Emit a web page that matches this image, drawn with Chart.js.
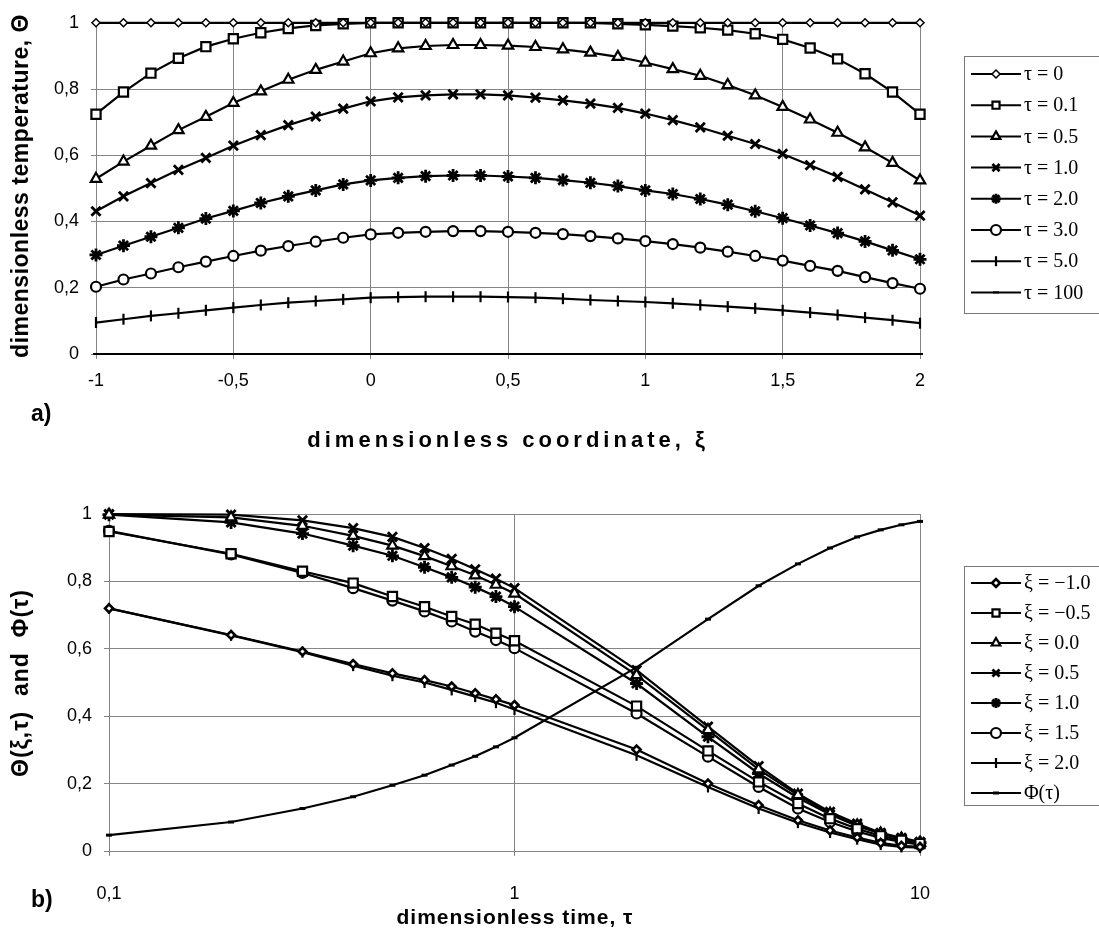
<!DOCTYPE html>
<html>
<head>
<meta charset="utf-8">
<script src="https://cdn.jsdelivr.net/npm/chart.js@4.4.1/dist/chart.umd.min.js"></script>
<style>
  body { margin: 0; background: #fff; }
  #wrap { position: relative; width: 1099px; height: 933px; }
  canvas { position: absolute; left: 0; }
</style>
</head>
<body>
<div id="wrap">
  <canvas id="chartA" width="1099" height="466" style="top:0"></canvas>
  <canvas id="chartB" width="1099" height="467" style="top:466px"></canvas>
</div>
<script>
// ---- panel a) : temperature profiles along xi ----
const xiValues = [-1, -0.9, -0.8, -0.7, -0.6, -0.5, -0.4, -0.3, -0.2, -0.1, 0, 0.1, 0.2, 0.3, 0.4, 0.5,
  0.6, 0.7, 0.8, 0.9, 1, 1.1, 1.2, 1.3, 1.4, 1.5, 1.6, 1.7, 1.8, 1.9, 2];

const thetaTau0 = [1, 1, 1, 1, 1, 1, 1, 1, 1, 1, 1, 1, 1, 1, 1, 1, 1, 1, 1, 1, 1, 1, 1, 1, 1, 1, 1, 1, 1, 1, 1];
const thetaTau01 = [0.724, 0.791, 0.848, 0.893, 0.928, 0.952, 0.97, 0.983, 0.992, 0.997, 1.0, 1, 1, 1, 1, 1,
  1, 1, 1, 0.997, 0.994, 0.99, 0.985, 0.978, 0.967, 0.95, 0.924, 0.891, 0.846, 0.791, 0.724];
const thetaTau05 = [0.529, 0.581, 0.629, 0.676, 0.716, 0.758, 0.793, 0.828, 0.858, 0.883, 0.908, 0.923, 0.93, 0.933, 0.933, 0.931,
  0.927, 0.92, 0.91, 0.897, 0.88, 0.86, 0.84, 0.812, 0.781, 0.746, 0.708, 0.668, 0.624, 0.577, 0.524];
const thetaTau1 = [0.431, 0.476, 0.516, 0.556, 0.592, 0.629, 0.661, 0.691, 0.717, 0.741, 0.763, 0.775, 0.781, 0.784, 0.784, 0.781,
  0.774, 0.766, 0.756, 0.743, 0.726, 0.706, 0.684, 0.659, 0.634, 0.604, 0.57, 0.535, 0.497, 0.458, 0.418];
const thetaTau2 = [0.299, 0.327, 0.354, 0.381, 0.409, 0.432, 0.456, 0.476, 0.494, 0.512, 0.524, 0.532, 0.537, 0.539, 0.539, 0.536,
  0.532, 0.525, 0.517, 0.507, 0.494, 0.483, 0.468, 0.451, 0.431, 0.41, 0.388, 0.365, 0.34, 0.313, 0.286];
const thetaTau3 = [0.203, 0.225, 0.243, 0.262, 0.279, 0.296, 0.312, 0.326, 0.339, 0.351, 0.361, 0.366, 0.369, 0.371, 0.371, 0.369,
  0.366, 0.362, 0.356, 0.349, 0.341, 0.332, 0.321, 0.309, 0.296, 0.282, 0.266, 0.251, 0.232, 0.214, 0.197];
const thetaTau5 = [0.095, 0.105, 0.115, 0.123, 0.132, 0.14, 0.148, 0.155, 0.16, 0.165, 0.17, 0.172, 0.173, 0.173, 0.173, 0.172,
  0.17, 0.167, 0.163, 0.16, 0.157, 0.153, 0.148, 0.143, 0.138, 0.132, 0.125, 0.118, 0.11, 0.102, 0.093];
const thetaTau100 = [0, 0, 0, 0, 0, 0, 0, 0, 0, 0, 0, 0, 0, 0, 0, 0, 0, 0, 0, 0, 0, 0, 0, 0, 0, 0, 0, 0, 0, 0, 0];

const xiTicks = [-1, -0.5, 0, 0.5, 1, 1.5, 2];
const thetaTicks = [0, 0.2, 0.4, 0.6, 0.8, 1];

// ---- panel b) : temperature vs time at fixed xi ----
const tauValues = [0.1, 0.2, 0.3, 0.4, 0.5, 0.6, 0.7, 0.8, 0.9, 1, 2, 3, 4, 5, 6, 7, 8, 9, 10];

const thetaXiM10 = [0.72, 0.641, 0.592, 0.555, 0.527, 0.507, 0.488, 0.468, 0.45, 0.433, 0.301, 0.2, 0.136, 0.091, 0.061, 0.04, 0.024, 0.015, 0.012];
const thetaXiM05 = [0.948, 0.882, 0.83, 0.795, 0.755, 0.725, 0.696, 0.673, 0.646, 0.624, 0.43, 0.297, 0.205, 0.141, 0.096, 0.066, 0.045, 0.032, 0.022];
const thetaXi00 = [0.998, 0.99, 0.965, 0.935, 0.906, 0.875, 0.845, 0.818, 0.79, 0.764, 0.522, 0.359, 0.242, 0.166, 0.111, 0.076, 0.052, 0.037, 0.025];
const thetaXi05 = [1.0, 0.998, 0.981, 0.958, 0.932, 0.899, 0.867, 0.836, 0.808, 0.78, 0.537, 0.369, 0.252, 0.17, 0.116, 0.081, 0.054, 0.039, 0.027];
const thetaXi10 = [0.998, 0.975, 0.942, 0.906, 0.876, 0.842, 0.812, 0.783, 0.755, 0.725, 0.497, 0.339, 0.23, 0.158, 0.108, 0.074, 0.052, 0.037, 0.025];
const thetaXi15 = [0.95, 0.88, 0.825, 0.78, 0.743, 0.711, 0.681, 0.651, 0.626, 0.602, 0.408, 0.28, 0.19, 0.126, 0.086, 0.058, 0.039, 0.027, 0.019];
const thetaXi20 = [0.72, 0.64, 0.59, 0.55, 0.52, 0.5, 0.478, 0.458, 0.44, 0.42, 0.284, 0.19, 0.126, 0.084, 0.055, 0.035, 0.019, 0.012, 0.01];
const phiTau = [0.047, 0.086, 0.126, 0.161, 0.195, 0.225, 0.255, 0.281, 0.309, 0.336, 0.545, 0.688, 0.787, 0.852, 0.899, 0.932, 0.953, 0.968, 0.978];

const tauTicks = [0.1, 1, 10];

const GRID = '#858585';
const tickFont = { family: "'Liberation Sans', Arial, sans-serif", size: 18 };

function pairs(xs, ys) {
  return xs.map((x, i) => ({ x: x, y: ys[i] }));
}

function comma(v) {
  return String(Math.round(v * 10) / 10).replace('.', ',');
}

// one black line with hollow markers
function series(label, xs, ys, style, radius, bw, rot) {
  return {
    label: label,
    data: pairs(xs, ys),
    borderColor: '#000',
    borderWidth: 2.2,
    pointStyle: style,
    pointRadius: radius,
    pointRotation: rot || 0,
    pointBorderWidth: bw,
    pointBorderColor: '#000',
    pointBackgroundColor: '#fff',
    tension: 0,
    clip: false
  };
}

// legend in a framed box, line sample with the marker in the middle
const boxLegend = {
  id: 'boxLegend',
  afterDraw(chart, args, opts) {
    const ctx = chart.ctx;
    ctx.save();
    ctx.strokeStyle = '#777';
    ctx.lineWidth = 1;
    ctx.strokeRect(opts.left + 0.5, opts.top + 0.5, 300, opts.bottom - opts.top);
    chart.data.datasets.forEach((ds, i) => {
      const y = opts.firstY + i * opts.step;
      ctx.strokeStyle = '#000';
      ctx.lineWidth = 2;
      ctx.beginPath();
      ctx.moveTo(opts.left + 7, y);
      ctx.lineTo(opts.left + 57, y);
      ctx.stroke();
      ctx.fillStyle = '#fff';
      ctx.lineWidth = ds.pointBorderWidth;
      Chart.helpers.drawPoint(ctx, {
        pointStyle: ds.pointStyle,
        radius: Math.min(ds.pointRadius, 5),
        rotation: ds.pointRotation,
        borderWidth: ds.pointBorderWidth
      }, opts.left + 32, y);
      ctx.fillStyle = '#000';
      ctx.font = opts.font;
      ctx.textBaseline = 'middle';
      ctx.textAlign = 'left';
      ctx.fillText(ds.label, opts.left + 60, y + 1);
    });
    ctx.restore();
  }
};

// axis titles and panel letter
const panelText = {
  id: 'panelText',
  afterDraw(chart, args, opts) {
    const ctx = chart.ctx;
    ctx.save();
    ctx.fillStyle = '#000';
    ctx.textBaseline = 'middle';
    ctx.textAlign = 'center';
    ctx.font = opts.xFont;
    ctx.letterSpacing = opts.xSpacing;
    ctx.fillText(opts.xTitle, opts.xPos[0], opts.xPos[1]);
    ctx.letterSpacing = '0px';
    ctx.font = opts.panelFont;
    ctx.textAlign = 'left';
    ctx.fillText(opts.panel, opts.panelPos[0], opts.panelPos[1]);
    ctx.translate(opts.yPos[0], opts.yPos[1]);
    ctx.rotate(-Math.PI / 2);
    ctx.textAlign = 'center';
    ctx.font = opts.yFont;
    ctx.letterSpacing = opts.ySpacing;
    ctx.fillText(opts.yTitle, 0, 0);
    ctx.restore();
  }
};

Chart.register(boxLegend, panelText);

new Chart(document.getElementById('chartA'), {
  type: 'line',
  data: {
    datasets: [
      series('τ = 0', xiValues, thetaTau0, 'rectRot', 4, 1.5),
      series('τ = 0.1', xiValues, thetaTau01, 'rect', 6.5, 2.2),
      series('τ = 0.5', xiValues, thetaTau05, 'triangle', 6, 2.2),
      series('τ = 1.0', xiValues, thetaTau1, 'crossRot', 6.5, 2.8),
      series('τ = 2.0', xiValues, thetaTau2, 'star', 6.5, 2.8),
      series('τ = 3.0', xiValues, thetaTau3, 'circle', 5, 2.2),
      series('τ = 5.0', xiValues, thetaTau5, 'line', 5.5, 2.2, 90),
      series('τ = 100', xiValues, thetaTau100, 'line', 3, 2)
    ]
  },
  options: {
    responsive: false,
    animation: false,
    layout: { padding: { left: 0, right: 179, top: 18, bottom: 0 } },
    plugins: {
      legend: { display: false },
      tooltip: { enabled: false },
      boxLegend: { left: 964, top: 56, bottom: 313, firstY: 74, step: 31.2, font: "20px 'Liberation Serif', 'Times New Roman', serif" },
      panelText: {
        xTitle: 'dimensionless coordinate, ξ', xPos: [508, 441], xFont: "bold 22px 'Liberation Sans', Arial, sans-serif", xSpacing: '4px',
        yTitle: 'dimensionless temperature, Θ', yPos: [22, 186], yFont: "bold 23px 'Liberation Sans', Arial, sans-serif", ySpacing: '0.5px',
        panel: 'a)', panelPos: [31, 415], panelFont: "bold 23px 'Liberation Sans', Arial, sans-serif"
      }
    },
    scales: {
      x: {
        type: 'linear', min: -1, max: 2,
        afterBuildTicks: s => { s.ticks = xiTicks.map(v => ({ value: v })); },
        afterFit: s => { s.height = 112; },
        ticks: { font: tickFont, color: '#000', padding: 11, maxRotation: 0, callback: v => comma(v) },
        grid: { color: GRID, lineWidth: 1, tickLength: 5 },
        border: { color: GRID }
      },
      y: {
        min: 0, max: 1,
        afterBuildTicks: s => { s.ticks = thetaTicks.map(v => ({ value: v })); },
        afterFit: s => { s.width = 96; },
        ticks: { font: tickFont, color: '#000', padding: 12, callback: v => comma(v) },
        grid: { color: GRID, lineWidth: 1, tickLength: 5 },
        border: { color: GRID }
      }
    }
  }
});

new Chart(document.getElementById('chartB'), {
  type: 'line',
  data: {
    datasets: [
      series('ξ = −1.0', tauValues, thetaXiM10, 'rectRot', 4, 2.6),
      series('ξ = −0.5', tauValues, thetaXiM05, 'rect', 6.5, 2.2),
      series('ξ = 0.0', tauValues, thetaXi00, 'triangle', 6, 2.2),
      series('ξ = 0.5', tauValues, thetaXi05, 'crossRot', 6.5, 2.8),
      series('ξ = 1.0', tauValues, thetaXi10, 'star', 6.5, 2.8),
      series('ξ = 1.5', tauValues, thetaXi15, 'circle', 5, 2.2),
      series('ξ = 2.0', tauValues, thetaXi20, 'line', 5.5, 2.2, 90),
      series('Φ(τ)', tauValues, phiTau, 'line', 3, 3)
    ]
  },
  options: {
    responsive: false,
    animation: false,
    layout: { padding: { left: 0, right: 179, top: 48, bottom: 0 } },
    plugins: {
      legend: { display: false },
      tooltip: { enabled: false },
      boxLegend: { left: 964, top: 100, bottom: 339, firstY: 117, step: 30, font: "20px 'Liberation Serif', 'Times New Roman', serif" },
      panelText: {
        xTitle: 'dimensionless time, τ', xPos: [515, 452], xFont: "bold 21px 'Liberation Sans', Arial, sans-serif", xSpacing: '1px',
        yTitle: 'Θ(ξ,τ)  and  Φ(τ)', yPos: [22, 217], yFont: "bold 23px 'Liberation Sans', Arial, sans-serif", ySpacing: '1px',
        panel: 'b)', panelPos: [31, 435], panelFont: "bold 23px 'Liberation Sans', Arial, sans-serif"
      }
    },
    scales: {
      x: {
        type: 'logarithmic', min: 0.1, max: 10,
        afterBuildTicks: s => { s.ticks = tauTicks.map(v => ({ value: v })); },
        afterFit: s => { s.height = 82; },
        ticks: { font: tickFont, color: '#000', padding: 27, maxRotation: 0, callback: v => comma(v) },
        grid: { color: GRID, lineWidth: 1, tickLength: 5 },
        border: { color: GRID }
      },
      y: {
        min: 0, max: 1,
        afterBuildTicks: s => { s.ticks = thetaTicks.map(v => ({ value: v })); },
        afterFit: s => { s.width = 109; },
        ticks: { font: tickFont, color: '#000', padding: 12, callback: v => comma(v) },
        grid: { color: GRID, lineWidth: 1, tickLength: 5 },
        border: { color: GRID }
      }
    }
  }
});
</script>
</body>
</html>
